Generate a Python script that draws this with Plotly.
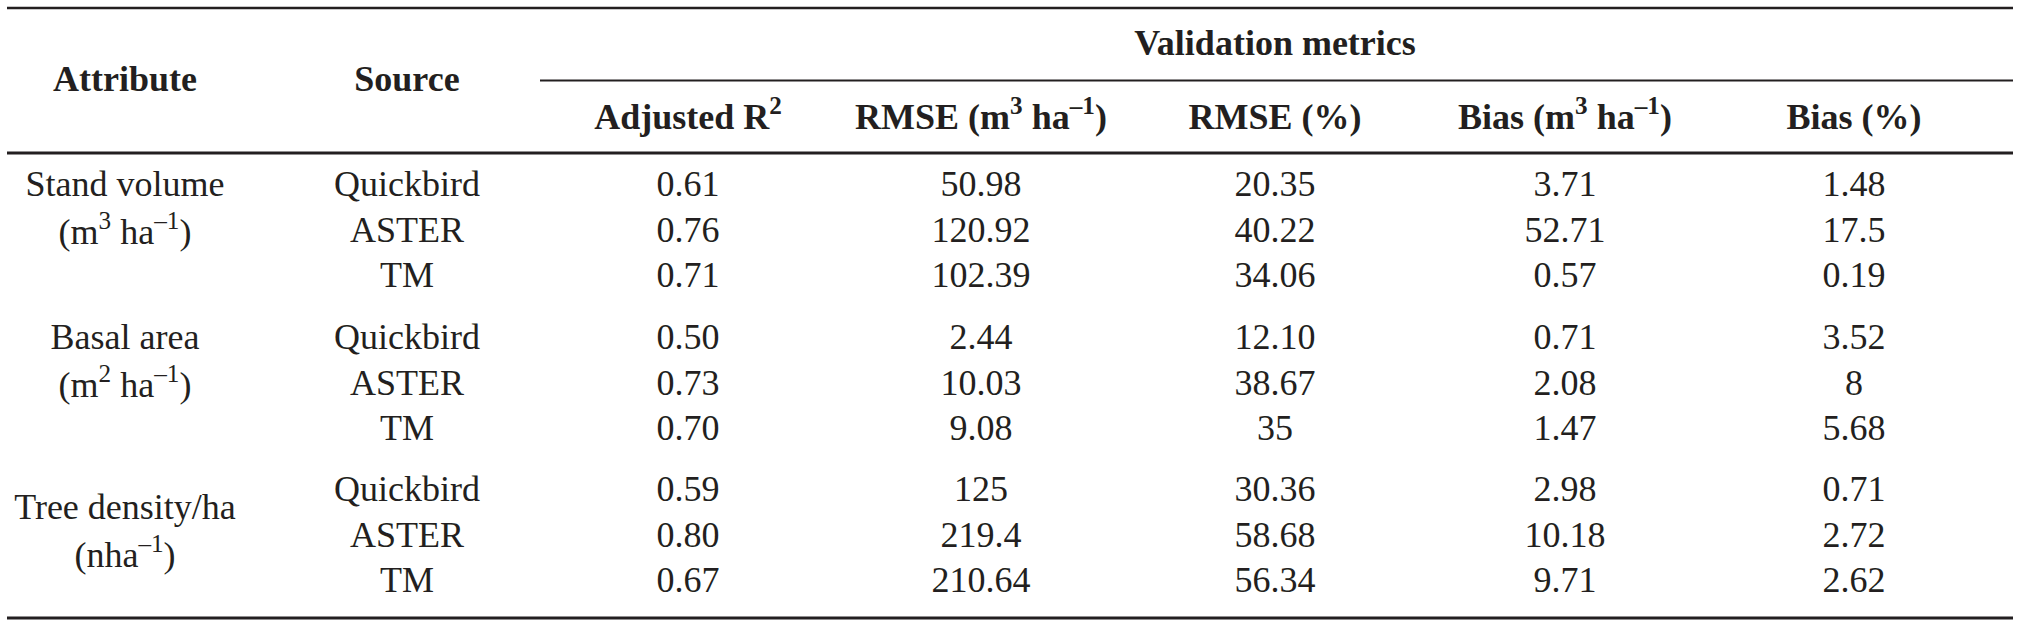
import plotly.graph_objects as go

# table contents
attributes = ["Stand volume", "Basal area", "Tree density/ha"]
attribute_units = ["(m<sup>3</sup> ha<sup>–1</sup>)", "(m<sup>2</sup> ha<sup>–1</sup>)", "(nha<sup>–1</sup>)"]
sources = ["Quickbird", "ASTER", "TM"]
metric_headers = ["Adjusted R<sup>2</sup>", "RMSE (m<sup>3</sup> ha<sup>–1</sup>)", "RMSE (%)",
                  "Bias (m<sup>3</sup> ha<sup>–1</sup>)", "Bias (%)"]

adj_r2 = ["0.61", "0.76", "0.71", "0.50", "0.73", "0.70", "0.59", "0.80", "0.67"]
rmse = ["50.98", "120.92", "102.39", "2.44", "10.03", "9.08", "125", "219.4", "210.64"]
rmse_pct = ["20.35", "40.22", "34.06", "12.10", "38.67", "35", "30.36", "58.68", "56.34"]
bias = ["3.71", "52.71", "0.57", "0.71", "2.08", "1.47", "2.98", "10.18", "9.71"]
bias_pct = ["1.48", "17.5", "0.19", "3.52", "8", "5.68", "0.71", "2.72", "2.62"]

# layout (pixel-like axis units)
W, H = 2019, 626
col_x = [125, 407, 688, 981, 1275, 1565, 1854]
group_top = [187, 340, 492]
row_step = 45.5
ink = "#231f20"
FONT = "Liberation Serif"
size = 36

row_y = [g + i * row_step for g in group_top for i in range(3)]
attr_y = [(187, 235), (340, 388), (510, 558)]

fig = go.Figure()

def text_trace(xs, ys, texts, bold=False):
    if bold:
        texts = ["<b>" + t + "</b>" for t in texts]
    fig.add_trace(go.Scatter(x=xs, y=ys, text=texts, mode="text",
                             textposition="middle center",
                             textfont=dict(family=FONT, size=size, color=ink),
                             hoverinfo="skip", showlegend=False))

# headers
text_trace([col_x[0], col_x[1]], [82, 82], ["Attribute", "Source"], bold=True)
text_trace([col_x[4]], [46], ["Validation metrics"], bold=True)
text_trace(col_x[2:], [120] * 5, metric_headers, bold=True)

# attribute names + units
xs, ys, ts = [], [], []
for a, u, (y1, y2) in zip(attributes, attribute_units, attr_y):
    xs += [col_x[0], col_x[0]]
    ys += [y1, y2]
    ts += [a, u]
text_trace(xs, ys, ts)

# sources
text_trace([col_x[1]] * 9, row_y, sources * 3)

# metric values
for cx, vals in zip(col_x[2:], [adj_r2, rmse, rmse_pct, bias, bias_pct]):
    text_trace([cx] * len(vals), row_y, vals)

# rules
for y0, x0, lw in [(8, 7, 2.5), (80.5, 540, 2), (153, 7, 3), (618, 7, 3)]:
    fig.add_shape(type="line", xref="x", yref="y", x0=x0, x1=2013, y0=y0, y1=y0,
                  line=dict(color=ink, width=lw))

fig.update_xaxes(range=[0, W], visible=False, fixedrange=True)
fig.update_yaxes(range=[H, 0], visible=False, fixedrange=True)
fig.update_layout(width=W, height=H, margin=dict(l=0, r=0, t=0, b=0),
                  paper_bgcolor="white", plot_bgcolor="white")

# drop the default page margin so the figure sits at the window corner
fig.write_html("out.html", config={"displayModeBar": False},
               post_script="document.body.style.margin='0';")
